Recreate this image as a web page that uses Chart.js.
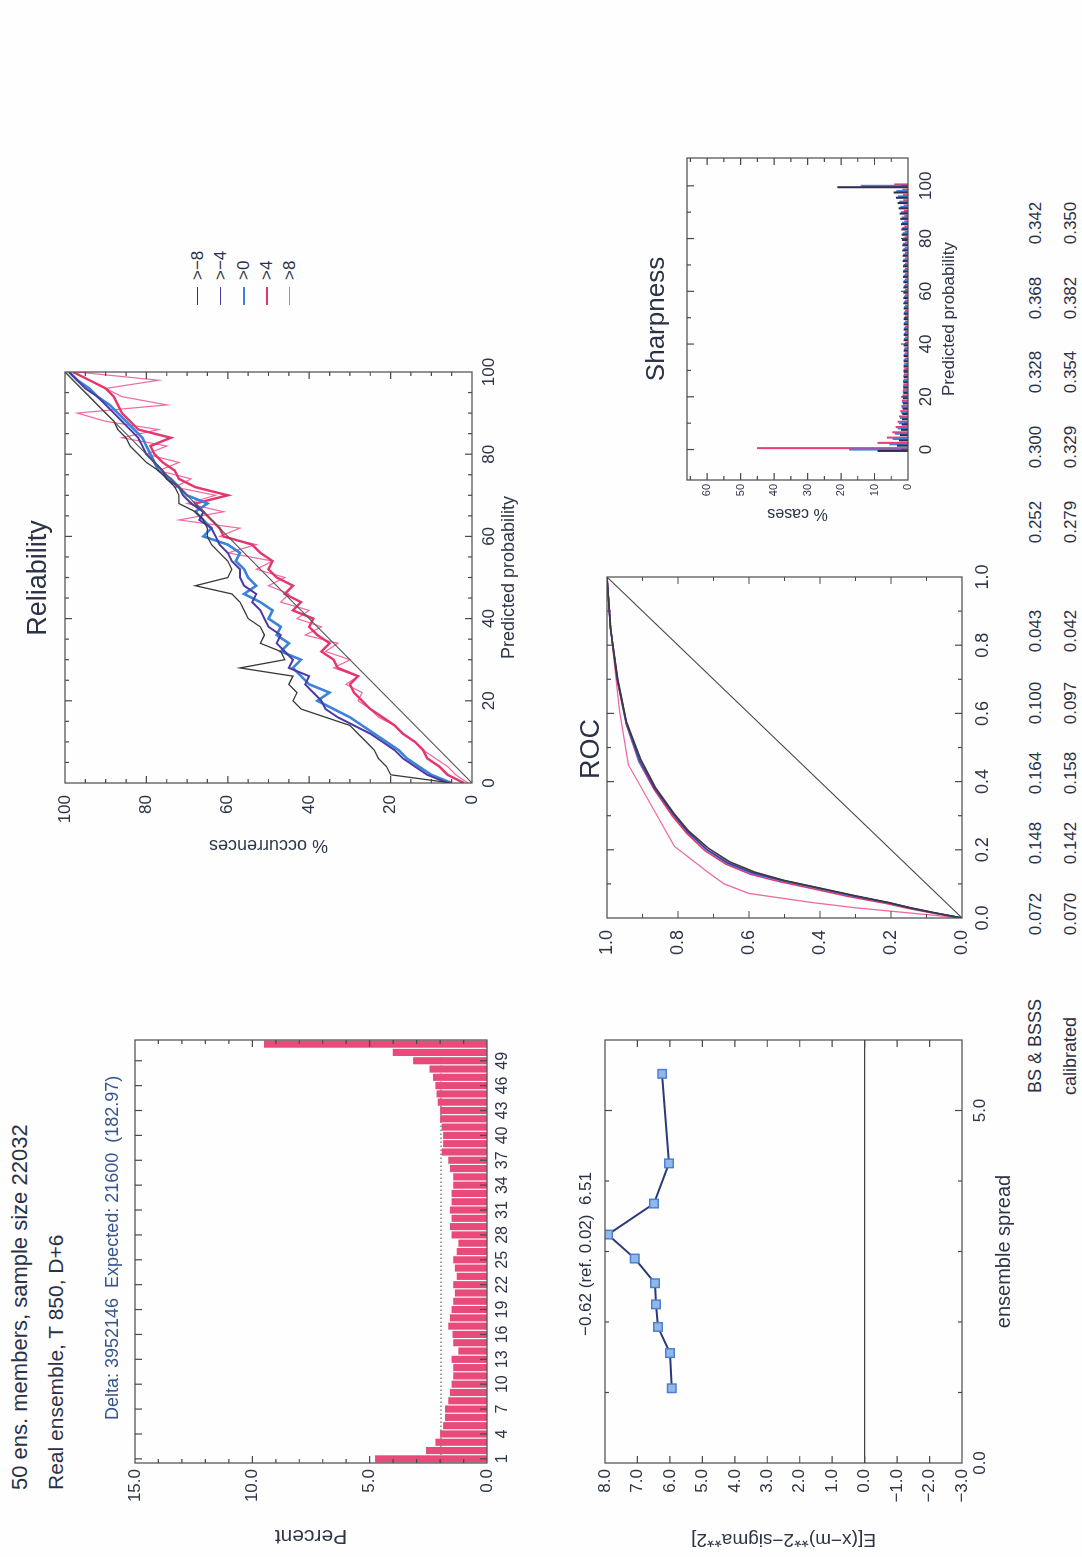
<!DOCTYPE html>
<html>
<head>
<meta charset="utf-8">
<script src="https://cdn.jsdelivr.net/npm/chart.js@4.4.1/dist/chart.umd.min.js"></script>
<style>
html, body { margin: 0; padding: 0; width: 1082px; height: 1557px; overflow: hidden; background: #fefefe; }
#sheet { position: absolute; left: 0; top: 0; width: 1557px; height: 1082px; transform-origin: 0 0;
  transform: translate(0, 1557px) rotate(-90deg); background: #fefefe;
  font-family: "Liberation Sans", Arial, sans-serif; color: #2b3146; }
#sheet canvas { position: absolute; }
.t { position: absolute; white-space: pre; transform: translateY(-50%); line-height: 1; }
.c { transform: translate(-50%, -50%); }
.sw { position: absolute; height: 0; }
</style>
</head>
<body>
<div id="sheet"></div>
<script>
// ---------- data ----------
const rankLabels = ['1','2','3','4','5','6','7','8','9','10','11','12','13','14','15','16','17','18','19','20',
  '21','22','23','24','25','26','27','28','29','30','31','32','33','34','35','36','37','38','39','40',
  '41','42','43','44','45','46','47','48','49','50','51'];
const rankPct = [4.77, 2.60, 2.20, 2.00, 1.87, 1.79, 1.79, 1.65, 1.58, 1.51, 1.44, 1.44, 1.51, 1.22, 1.44, 1.47, 1.65,
  1.58, 1.51, 1.44, 1.37, 1.44, 1.29, 1.37, 1.44, 1.29, 1.22, 1.51, 1.58, 1.51, 1.58, 1.51, 1.51, 1.44, 1.44, 1.58,
  1.65, 1.93, 1.87, 1.87, 1.93, 2.00, 2.00, 2.10, 2.15, 2.20, 2.30, 2.45, 3.15, 4.02, 9.50];
const expectedPct = 1.96;

const spreadX = [1.06, 1.56, 1.93, 2.25, 2.55, 2.90, 3.24, 3.68, 4.25, 5.52];
const spreadY = [5.94, 6.00, 6.37, 6.43, 6.46, 7.08, 7.91, 6.49, 6.03, 6.24];

const thresholds = ['>\u22128', '>\u22124', '>0', '>4', '>8'];
const seriesColors = ['#3a3a3a', '#4a3ba6', '#3a82dc', '#e6346c', '#f068a4'];

const probs = [0, 2, 4, 6, 8, 10, 12, 14, 16, 18, 20, 22, 24, 26, 28, 30, 32, 34, 36, 38, 40, 42, 44, 46, 48, 50,
  52, 54, 56, 58, 60, 62, 64, 66, 68, 70, 72, 74, 76, 78, 80, 82, 84, 86, 88, 90, 92, 94, 96, 98, 100];
const relM8 = [5, 20, 21, 23, 24, 26, 28, 30, 36, 42, 44, 43, 45, 44, 57, 46, 47, 52, 51, 52, 55, 56, 57, 59, 68, 60,
  59, 60, 62, 64, 65, 65, 66, 68, 72, 72, 73, 75, 77, 80, 82, 84, 85, 87, 88, 90, 92, 94, 96, 98, 100];
const relM4 = [6, 11, 14, 17, 19, 22, 25, 29, 33, 36, 37, 39, 41, 40, 45, 44, 46, 48, 47, 50, 51, 52, 54, 53, 56, 57,
  57, 59, 60, 62, 63, 64, 67, 66, 69, 71, 72, 75, 76, 78, 80, 81, 82, 84, 86, 88, 90, 92, 95, 97, 99];
const rel0 = [5, 10, 13, 16, 18, 21, 24, 27, 30, 34, 38, 35, 40, 42, 44, 42, 47, 45, 48, 47, 50, 49, 52, 56, 53, 55,
  56, 58, 57, 60, 66, 64, 66, 68, 65, 70, 72, 74, 77, 78, 79, 80, 81, 83, 85, 87, 89, 92, 94, 97, 99];
const rel4 = [2, 6, 8, 11, 12, 14, 17, 19, 22, 25, 27, 29, 30, 28, 33, 34, 37, 35, 38, 40, 39, 44, 42, 46, 44, 48,
  50, 49, 52, 54, 61, 62, 64, 66, 68, 60, 68, 72, 73, 76, 78, 79, 74, 82, 84, 86, 87, 88, 90, 94, 98];
const rel8 = [1, 4, 6, 9, 12, 14, 17, 19, 23, 25, 28, 27, 31, 28, 34, 30, 36, 33, 41, 37, 43, 40, 47, 45, 50, 46,
  53, 49, 60, 53, 62, 57, 72, 61, 70, 63, 73, 69, 77, 72, 80, 75, 86, 77, 90, 97, 75, 86, 90, 77, 97];
const diagonal = [0, 100];

// ROC: [false alarm rate, hit rate]
const rocM8 = [[0,0],[0.015,0.075],[0.03,0.145],[0.045,0.205],[0.065,0.30],[0.09,0.41],[0.11,0.50],[0.135,0.585],
  [0.165,0.655],[0.205,0.715],[0.255,0.77],[0.305,0.81],[0.385,0.865],[0.465,0.905],[0.575,0.945],[0.70,0.97],[0.85,0.99],[1,1]];
const rocM4 = [[0,0],[0.015,0.078],[0.03,0.148],[0.045,0.208],[0.065,0.305],[0.09,0.415],[0.11,0.505],[0.133,0.59],
  [0.162,0.66],[0.202,0.72],[0.252,0.772],[0.302,0.812],[0.382,0.867],[0.462,0.908],[0.572,0.946],[0.70,0.971],[0.85,0.99],[1,1]];
const roc0 = [[0,0],[0.015,0.08],[0.03,0.15],[0.045,0.21],[0.065,0.31],[0.09,0.42],[0.11,0.51],[0.13,0.59],
  [0.16,0.66],[0.20,0.72],[0.25,0.77],[0.30,0.81],[0.38,0.865],[0.46,0.91],[0.57,0.945],[0.70,0.97],[0.85,0.99],[1,1]];
const roc4 = [[0,0],[0.014,0.08],[0.028,0.15],[0.043,0.215],[0.062,0.315],[0.087,0.425],[0.107,0.515],[0.128,0.595],
  [0.158,0.665],[0.198,0.725],[0.248,0.775],[0.298,0.815],[0.378,0.868],[0.458,0.91],[0.568,0.946],[0.70,0.972],[0.85,0.99],[1,1]];
const roc8 = [[0,0],[0.01,0.10],[0.02,0.20],[0.03,0.30],[0.045,0.42],[0.06,0.52],[0.072,0.60],[0.10,0.67],
  [0.13,0.71],[0.21,0.81],[0.45,0.94],[0.61,0.965],[0.80,0.985],[1,1]];
const rocDiag = [0, 1];

// Sharpness: % cases per predicted probability
const sharpM8 = [9, 3.2, 2.6, 2.3, 2.0, 1.8, 1.7, 1.6, 1.5, 1.4, 1.4, 1.3, 1.3, 1.3, 1.2, 1.2, 1.2, 1.2, 1.2, 1.2,
  1.2, 1.2, 1.2, 1.2, 1.2, 1.2, 1.2, 1.2, 1.3, 1.3, 1.3, 1.3, 1.3, 1.4, 1.4, 1.4, 1.5, 1.5, 1.6, 1.6, 1.7, 1.8, 1.9,
  2.0, 2.2, 2.4, 2.7, 3.0, 3.5, 4.2, 21];
const sharp0 = [17.5, 5.5, 4.5, 3.8, 3.0, 2.6, 2.3, 2.0, 1.8, 1.7, 1.6, 1.5, 1.4, 1.4, 1.3, 1.3, 1.2, 1.2, 1.2, 1.1,
  1.1, 1.1, 1.1, 1.1, 1.1, 1.1, 1.1, 1.1, 1.1, 1.1, 1.1, 1.1, 1.2, 1.2, 1.2, 1.2, 1.3, 1.3, 1.3, 1.4, 1.4, 1.5, 1.6,
  1.7, 1.8, 2.0, 2.2, 2.5, 2.9, 3.4, 14];
const sharp8 = [45, 9, 6.2, 4.6, 3.6, 3.0, 2.6, 2.2, 1.9, 1.7, 1.5, 1.4, 1.3, 1.2, 1.1, 1.0, 1.0, 0.9, 0.9, 0.9,
  0.8, 0.8, 0.8, 0.8, 0.8, 0.8, 0.8, 0.8, 0.8, 0.8, 0.8, 0.8, 0.8, 0.8, 0.8, 0.8, 0.8, 0.8, 0.9, 0.9, 0.9, 0.9, 1.0,
  1.0, 1.0, 1.1, 1.2, 1.3, 1.4, 1.6, 4];

const bsScores = ['0.072', '0.148', '0.164', '0.100', '0.043', '0.252', '0.300', '0.328', '0.368', '0.342'];
const bsCalibrated = ['0.070', '0.142', '0.158', '0.097', '0.042', '0.279', '0.329', '0.354', '0.382', '0.350'];

// ---------- page set-up (figure is drawn landscape, then turned) ----------
const sheet = document.getElementById('sheet');
const textColor = '#2f3548';
const frameColor = '#4a4a4a';
Chart.defaults.font.family = '"Liberation Sans", Arial, sans-serif';
Chart.defaults.color = textColor;

function addText(str, x, y, size, opts) {
  opts = opts || {};
  const d = document.createElement('div');
  d.className = 't' + (opts.center ? ' c' : '');
  d.textContent = str;
  d.style.left = x + 'px';
  d.style.top = y + 'px';
  d.style.fontSize = size + 'px';
  if (opts.color) d.style.color = opts.color;
  sheet.appendChild(d);
}

function makeCanvas(b) {
  const c = document.createElement('canvas');
  c.width = b.w; c.height = b.h;
  c.style.left = b.x + 'px'; c.style.top = b.y + 'px';
  c.style.width = b.w + 'px'; c.style.height = b.h + 'px';
  sheet.appendChild(c);
  return c.getContext('2d');
}

// box around the plot with inward tick marks on all four sides
const frameTicks = {
  id: 'frameTicks',
  afterDatasetsDraw(chart) {
    const ctx = chart.ctx, a = chart.chartArea;
    ctx.save();
    ctx.strokeStyle = frameColor;
    ctx.lineWidth = 1.2;
    ctx.strokeRect(a.left, a.top, a.right - a.left, a.bottom - a.top);
    Object.values(chart.scales).forEach(sc => {
      sc.ticks.forEach((t, i) => {
        const p = sc.getPixelForTick(i);
        const len = t.label !== '' ? 7 : 4;
        ctx.beginPath();
        if (sc.isHorizontal()) {
          if (p < a.left + 1 || p > a.right - 1) return;
          ctx.moveTo(p, a.bottom); ctx.lineTo(p, a.bottom - len);
          ctx.moveTo(p, a.top); ctx.lineTo(p, a.top + len);
        } else {
          if (p < a.top + 1 || p > a.bottom - 1) return;
          ctx.moveTo(a.left, p); ctx.lineTo(a.left + len, p);
          ctx.moveTo(a.right, p); ctx.lineTo(a.right - len, p);
        }
        ctx.stroke();
      });
    });
    ctx.restore();
  }
};

// dotted "expected" level behind the histogram bars
const expectedLine = {
  id: 'expectedLine',
  beforeDatasetsDraw(chart, args, opts) {
    const ctx = chart.ctx, a = chart.chartArea;
    const y = chart.scales.y.getPixelForValue(opts.value);
    ctx.save();
    ctx.strokeStyle = '#444';
    ctx.lineWidth = 1;
    ctx.setLineDash([1.5, 2.5]);
    ctx.beginPath(); ctx.moveTo(a.left, y); ctx.lineTo(a.right, y); ctx.stroke();
    ctx.restore();
  }
};

function axis(o) {
  const s = {
    type: o.type || 'linear',
    grid: o.grid || { display: false, drawTicks: false },
    border: { display: false },
    ticks: { autoSkip: false, maxRotation: 0, minRotation: 0, includeBounds: false,
      padding: o.pad, font: { size: o.size || 17 } },
    title: o.title ? { display: true, text: o.title, color: textColor, font: { size: o.tsize }, padding: o.tpad }
                   : { display: false }
  };
  if (o.min !== undefined) { s.min = o.min; s.max = o.max; }
  if (o.step) s.ticks.stepSize = o.step;
  if (o.fmt) s.ticks.callback = o.fmt;
  if (o.filter) s.afterBuildTicks = o.filter;
  s.afterFit = o.w ? (sc => { sc.width = o.w; }) : (sc => { sc.height = o.h; });
  return s;
}

// top/right padding is kept larger than any axis label overhang so the plot box lands exactly
const PAD = 28;
const base = {
  responsive: false,
  animation: false,
  devicePixelRatio: 1,
  layout: { padding: { top: PAD, right: PAD, left: 0, bottom: 0 } },
  plugins: { legend: { display: false }, tooltip: { enabled: false } }
};
function opts(scales, extra) {
  return Object.assign({}, base, { scales: scales }, extra || {});
}
// plot box (left, top, right, bottom) + y-axis width + x-axis height -> canvas box
function box(l, t, r, b, yw, xh) {
  return { x: l - yw, y: t - PAD, w: r - l + yw + PAD, h: b - t + PAD + xh };
}
const xy = (xs, ys) => xs.map((x, i) => ({ x: x, y: ys[i] }));
const pairs = arr => arr.map(p => ({ x: p[0], y: p[1] }));

// ---------- rank histogram ----------
new Chart(makeCanvas(box(94, 135, 517, 487, 94, 30)), {
  type: 'bar',
  data: {
    labels: rankLabels,
    datasets: [{ data: rankPct, backgroundColor: '#e94a7c', borderWidth: 0,
      barPercentage: 1, categoryPercentage: 0.86 }]
  },
  options: Object.assign({}, base, {
    scales: {
      x: axis({ type: 'category', pad: 6, size: 16, h: 30,
        filter: sc => { sc.ticks = sc.ticks.filter(t => t.value % 3 === 0 && t.value <= 48); } }),
      y: axis({ min: 0, max: 15, step: 1, pad: 6, w: 94, size: 17,
        fmt: v => (v % 5 === 0 ? v.toFixed(1) : ''),
        title: 'Percent', tsize: 21, tpad: { top: 9, bottom: 0 } })
    },
    plugins: { legend: { display: false }, tooltip: { enabled: false }, expectedLine: { value: expectedPct } }
  }),
  plugins: [expectedLine, frameTicks]
});

// ---------- spread / skill ----------
new Chart(makeCanvas(box(94, 605, 517, 962, 94, 56)), {
  type: 'line',
  data: {
    datasets: [{ data: xy(spreadX, spreadY), borderColor: '#2c3a78', borderWidth: 2, tension: 0,
      pointStyle: 'rect', pointRadius: 6, pointBackgroundColor: '#92b8ea', pointBorderColor: '#4d80d2',
      pointBorderWidth: 1.5 }]
  },
  options: opts({
    x: axis({ min: 0, max: 6, step: 1, pad: 8, h: 56, size: 17,
      fmt: v => (v === 0 || v === 5 ? v.toFixed(1) : ''),
      title: 'ensemble spread', tsize: 20, tpad: { top: 0, bottom: 2 } }),
    y: axis({ min: -3, max: 8, step: 1, pad: 6, w: 94, size: 17,
      fmt: v => v.toFixed(1).replace('-', '\u2212'),
      grid: { display: true, drawTicks: false, lineWidth: 1.2,
        color: c => (c.tick && c.tick.value === 0 ? '#444' : 'rgba(0,0,0,0)') },
      title: 'E[(x\u2212m)**2\u2212sigma**2]', tsize: 19, tpad: { top: 6, bottom: 0 } })
  }),
  plugins: [frameTicks]
});

// ---------- reliability ----------
const relSeries = [relM8, relM4, rel0, rel4, rel8];
const relWidths = [1.3, 2, 2.6, 2.4, 1.2];
new Chart(makeCanvas(box(774, 65, 1185, 472, 80, 50)), {
  type: 'line',
  data: {
    datasets: [{ data: xy(diagonal, diagonal), borderColor: '#555', borderWidth: 1.1, pointRadius: 0 }]
      .concat(relSeries.map((s, k) => ({ label: thresholds[k], data: xy(probs, s), borderColor: seriesColors[k],
        borderWidth: relWidths[k], pointRadius: 0, tension: 0 })))
  },
  options: opts({
    x: axis({ min: 0, max: 100, step: 5, pad: 7, h: 50, size: 17,
      fmt: v => (v % 20 === 0 ? String(v) : ''),
      title: 'Predicted probability', tsize: 18, tpad: { top: 0, bottom: 2 } }),
    y: axis({ min: 0, max: 100, step: 5, pad: 12, w: 80, size: 17,
      fmt: v => (v % 20 === 0 ? String(v) : ''),
      title: '% occurrences', tsize: 18, tpad: { top: 7, bottom: 0 } })
  }),
  plugins: [frameTicks]
});

// ---------- ROC ----------
const rocSeries = [rocM8, rocM4, roc0, roc4, roc8];
new Chart(makeCanvas(box(639, 607, 980, 962, 60, 40)), {
  type: 'line',
  data: {
    datasets: [{ data: xy(rocDiag, rocDiag), borderColor: '#444', borderWidth: 1.1, pointRadius: 0 }]
      .concat(rocSeries.map((s, k) => ({ label: thresholds[k], data: pairs(s), borderColor: seriesColors[k],
        borderWidth: k === 4 ? 1.3 : 1.6, pointRadius: 0, tension: 0 })))
  },
  options: opts({
    x: axis({ min: 0, max: 1, step: 0.1, pad: 10, h: 40, size: 18,
      fmt: v => (Math.round(v * 10) % 2 === 0 ? v.toFixed(1) : '') }),
    y: axis({ min: 0, max: 1, step: 0.1, pad: 12, w: 60, size: 18,
      fmt: v => (Math.round(v * 10) % 2 === 0 ? v.toFixed(1) : '') })
  }),
  plugins: [frameTicks]
});

// ---------- sharpness ----------
const sharpSeries = [sharpM8, sharp0, sharp8];
const sharpColors = ['#2e2f55', '#3f80dc', '#ea3d7c'];
new Chart(makeCanvas(box(1077, 687, 1399, 908, 50, 54)), {
  type: 'bar',
  data: {
    datasets: sharpSeries.map((s, k) => ({ data: xy(probs, s), backgroundColor: sharpColors[k],
      borderWidth: 0, barThickness: 1.4 }))
  },
  options: opts({
    x: axis({ min: -6, max: 105, step: 10, pad: 8, h: 54, size: 17,
      fmt: v => (v % 20 === 0 ? String(v) : ''),
      title: 'Predicted probability', tsize: 17, tpad: { top: 0, bottom: 2 } }),
    y: axis({ min: 0, max: 66, step: 5, pad: 4, w: 50, size: 11,
      fmt: v => (v % 10 === 0 ? String(v) : ''),
      title: '% cases', tsize: 16, tpad: { top: 7, bottom: 0 } })
  }),
  plugins: [frameTicks]
});

// ---------- text ----------
addText('50 ens. members, sample size 22032', 67, 20, 22);
addText('Real ensemble, T 850, D+6', 67, 55, 21);
addText('Delta: 3952146  Expected: 21600  (182.97)', 137, 112, 18, { color: '#36558f' });
addText('\u22120.62 (ref. 0.02)  6.51', 303, 585, 17, { center: true });
addText('Reliability', 979, 37, 27, { center: true });
addText('ROC', 808, 590, 27, { center: true });
addText('Sharpness', 1238, 655, 26, { center: true });

// legend for the five thresholds
const legendRows = [197, 220, 243, 266, 289];
thresholds.forEach((name, k) => {
  const sw = document.createElement('div');
  sw.className = 'sw';
  sw.style.left = '1252px';
  sw.style.top = legendRows[k] + 'px';
  sw.style.width = '18px';
  sw.style.borderTop = (k === 2 || k === 3 ? 2 : 1.5) + 'px solid ' + seriesColors[k];
  sheet.appendChild(sw);
  addText(name, 1277, legendRows[k], 17);
});

// Brier scores
const scoreCols = [643, 714, 784, 854, 926, 1035, 1110, 1185, 1259, 1334];
addText('BS & BSSS', 464, 1035, 18);
addText('calibrated', 462, 1070, 18);
bsScores.forEach((s, i) => addText(s, scoreCols[i], 1035, 17, { center: true }));
bsCalibrated.forEach((s, i) => addText(s, scoreCols[i], 1070, 17, { center: true }));
</script>
</body>
</html>
